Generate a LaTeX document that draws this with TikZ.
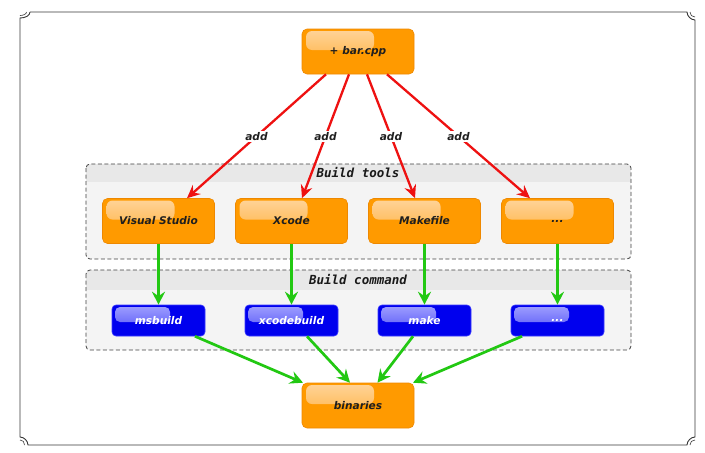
\documentclass[tikz,border=0pt]{standalone}
\usepackage{fontspec}
\setmainfont{DejaVu Sans}
\newfontfamily\grpfont{DejaVu Sans Mono}
\usetikzlibrary{arrows.meta,calc}
\definecolor{orfill}{HTML}{FF9A00}
\definecolor{ordraw}{HTML}{EE8800}
\definecolor{orhi}{HTML}{FFD49A}
\definecolor{orlo}{HTML}{FFAA2C}
\definecolor{blfill}{HTML}{0000EE}
\definecolor{bldraw}{HTML}{3A3AFF}
\definecolor{blhi}{HTML}{A0A0FF}
\definecolor{bllo}{HTML}{4A4AF6}
\definecolor{redline}{HTML}{EE1111}
\definecolor{grnline}{HTML}{22C812}
\definecolor{hdr}{HTML}{E8E8E8}
\definecolor{bdy}{HTML}{F4F4F4}
\definecolor{framec}{HTML}{3A3A3A}
\tikzset{
  orangebox/.style={rectangle, rounded corners=5pt, fill=orfill, draw=ordraw, line width=0.6pt,
    minimum width=112pt, minimum height=45pt, inner sep=0pt,
    font=\bfseries\itshape\fontsize{10.6}{12}\selectfont, text=black!88,
    path picture={\shade[rounded corners=6pt, top color=orhi, bottom color=orlo]
      ([shift={(4pt,-2pt)}]path picture bounding box.north west) rectangle
      ([shift={(72pt,-21pt)}]path picture bounding box.north west);}},
  bluebox/.style={rectangle, rounded corners=4pt, fill=blfill, draw=bldraw, line width=0.6pt,
    minimum width=93pt, minimum height=31pt, inner sep=0pt,
    font=\bfseries\itshape\fontsize{10.6}{12}\selectfont, text=white,
    path picture={\shade[rounded corners=5pt, top color=blhi, bottom color=bllo]
      ([shift={(3pt,-2pt)}]path picture bounding box.north west) rectangle
      ([shift={(58pt,-17pt)}]path picture bounding box.north west);}},
  grplabel/.style={font=\grpfont\bfseries\itshape\fontsize{12.5}{14}\selectfont, text=black!90, inner sep=0pt},
  grpframe/.style={draw=black!75, dash pattern=on 4pt off 2.5pt, line width=0.8pt, rounded corners=4pt},
  redarrow/.style={draw=redline, line width=2.3pt, -{Stealth[length=13pt,width=12pt,inset=4.5pt]}},
  grnarrow/.style={draw=grnline, line width=2.7pt, -{Stealth[length=13pt,width=13pt,inset=4.5pt]}},
  addlbl/.style={fill=white, inner sep=1.5pt, font=\bfseries\itshape\fontsize{10.6}{12}\selectfont, text=black!88},
  outerframe/.style={draw=framec, line width=0.9pt},
}
\begin{document}
\begin{tikzpicture}[x=1pt,y=-1pt]
\useasboundingbox (0,0) rectangle (705,453);
\fill[white] (0,0) rectangle (705,453);
% outer frame with curled corners
\draw[outerframe] (30,12) -- (687,12) .. controls (687,16) and (691,20) .. (695,20)
  -- (695,437) .. controls (691,437) and (687,441) .. (687,445)
  -- (28,445) .. controls (28,441) and (24,437) .. (20,437)
  -- (20,18) .. controls (25.5,18) and (30,15.5) .. (30,12);
\draw[outerframe, line width=0.6pt] (20,15.5) .. controls (23.5,15.5) and (26.5,14) .. (26.5,12);
\draw[outerframe, line width=0.6pt] (690,12) .. controls (690,15) and (692,17) .. (695,17);
\draw[outerframe, line width=0.6pt] (695,440) .. controls (692,440) and (690,442) .. (690,445);
\draw[outerframe, line width=0.6pt] (24.5,445) .. controls (24.5,442) and (23,440) .. (20,440);
% group: build tools
\begin{scope}
  \clip[rounded corners=4pt] (86,164) rectangle (631,259);
  \fill[bdy] (86,164) rectangle (631,259);
  \fill[hdr] (86,164) rectangle (631,182);
\end{scope}
\draw[grpframe] (86,164) rectangle (631,259);
\node[grplabel] (gtools) at (358,172.5) {Build tools};
% group: build command
\begin{scope}
  \clip[rounded corners=4pt] (86,270) rectangle (631,350);
  \fill[bdy] (86,270) rectangle (631,350);
  \fill[hdr] (86,270) rectangle (631,290);
\end{scope}
\draw[grpframe] (86,270) rectangle (631,350);
\node[grplabel] (gcmd) at (358,280) {Build command};
% nodes
\node[orangebox] (bar) at (358,51.5) {+ bar.cpp};
\node[orangebox] (vs) at (158.5,221) {Visual Studio};
\node[orangebox] (xc) at (291.5,221) {Xcode};
\node[orangebox] (mk) at (424.5,221) {Makefile};
\node[orangebox] (dt) at (557.5,221) {...};
\node[bluebox] (msb) at (158.5,320.5) {msbuild};
\node[bluebox] (xcb) at (291.5,320.5) {xcodebuild};
\node[bluebox] (mke) at (424.5,320.5) {make};
\node[bluebox] (dtc) at (557.5,320.5) {...};
\node[orangebox] (bin) at (358,405.5) {binaries};
% red arrows
\draw[redarrow] ([xshift=-32pt]bar.south) -- node[addlbl]{add} ([xshift=28.5pt]vs.north);
\draw[redarrow] ([xshift=-9pt]bar.south) -- node[addlbl]{add} ([xshift=10.5pt]xc.north);
\draw[redarrow] ([xshift=9pt]bar.south) -- node[addlbl]{add} ([xshift=-9.5pt]mk.north);
\draw[redarrow] ([xshift=29pt]bar.south) -- node[addlbl]{add} ([xshift=-27.5pt]dt.north);
% green arrows
\draw[grnarrow] (vs.south) -- (msb.north);
\draw[grnarrow] (xc.south) -- (xcb.north);
\draw[grnarrow] (mk.south) -- (mke.north);
\draw[grnarrow] (dt.south) -- (dtc.north);
\draw[grnarrow] ([xshift=36.5pt]msb.south) -- ([xshift=-55pt]bin.north);
\draw[grnarrow] ([xshift=15.5pt]xcb.south) -- ([xshift=-8pt]bin.north);
\draw[grnarrow] ([xshift=-11.5pt]mke.south) -- ([xshift=19.5pt]bin.north);
\draw[grnarrow] ([xshift=-35.5pt]dtc.south) -- ([xshift=55pt]bin.north);
\end{tikzpicture}
\end{document}
